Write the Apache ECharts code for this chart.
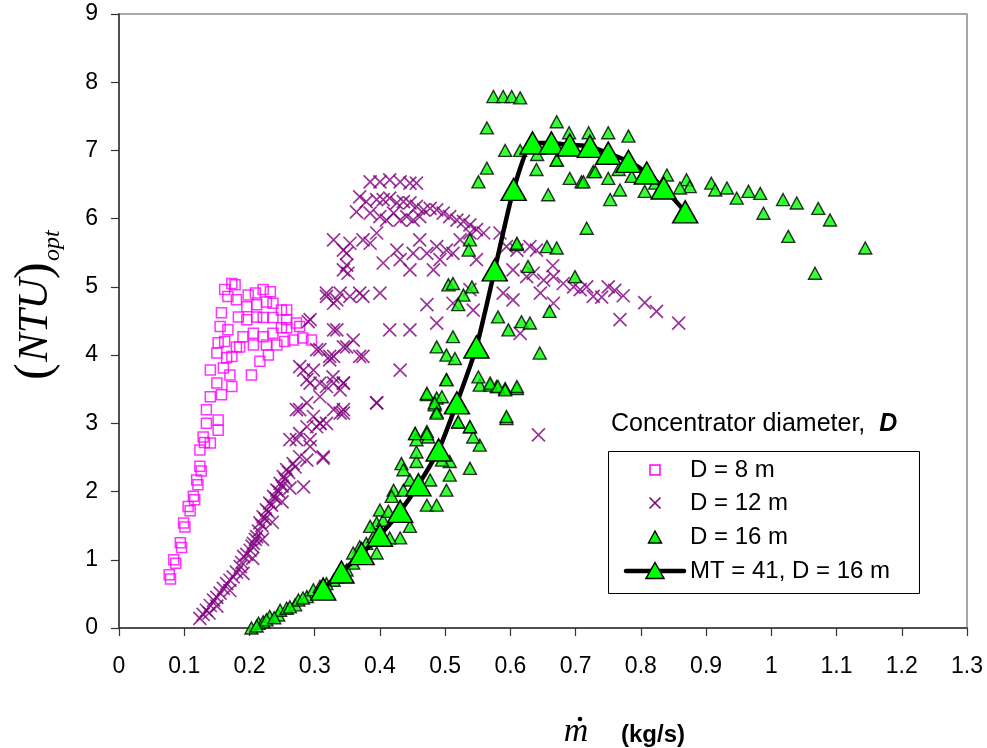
<!DOCTYPE html>
<html>
<head>
<meta charset="utf-8">
<script src="https://cdn.jsdelivr.net/npm/echarts@6/dist/echarts.min.js"></script>
<style>html,body{margin:0;padding:0;background:#fff}#c{width:987px;height:748px}</style>
</head>
<body>
<div id="c"></div>
<script>
var seriesNames = ['D = 8 m', 'D = 12 m', 'D = 16 m', 'MT = 41, D = 16 m'];
var xTicks = [0, 0.1, 0.2, 0.3, 0.4, 0.5, 0.6, 0.7, 0.8, 0.9, 1, 1.1, 1.2, 1.3];
var yTicks = [0, 1, 2, 3, 4, 5, 6, 7, 8, 9];

var d8Points = [
[0.077,0.78],[0.079,0.72],[0.084,1.0],[0.087,0.95],[0.094,1.25],[0.096,1.18],[0.099,1.54],[0.101,1.48],[0.106,1.78],[0.109,1.72],
[0.114,1.93],[0.116,1.88],[0.119,2.17],[0.121,2.1],[0.124,2.37],[0.126,2.3],[0.124,2.61],[0.129,2.8],[0.131,2.72],[0.14,2.71],
[0.134,3.0],[0.152,3.05],[0.152,2.9],[0.134,3.2],[0.14,3.39],[0.157,3.42],[0.15,3.59],[0.173,3.54],[0.14,3.78],[0.16,3.81],
[0.17,3.71],[0.15,4.03],[0.165,3.96],[0.152,4.18],[0.162,4.2],[0.155,4.42],[0.157,4.62],[0.167,4.37],[0.162,4.96],[0.173,5.05],
[0.178,5.03],[0.167,4.86],[0.18,4.81],[0.183,4.56],[0.185,4.12],[0.203,3.71],[0.196,4.71],[0.198,4.88],[0.209,4.91],[0.221,4.96],
[0.232,4.93],[0.226,4.78],[0.211,4.74],[0.236,4.76],[0.249,4.66],[0.257,4.66],[0.211,4.56],[0.221,4.55],[0.236,4.55],[0.257,4.52],
[0.272,4.47],[0.19,4.27],[0.206,4.32],[0.221,4.27],[0.236,4.32],[0.249,4.4],[0.257,4.4],[0.277,4.42],[0.282,4.25],[0.295,4.22],
[0.267,4.22],[0.254,4.2],[0.242,4.15],[0.226,4.15],[0.206,4.15],[0.18,4.12],[0.216,3.91],[0.229,4.0],[0.173,3.98],[0.196,4.52]
];

var d12Points = [
[0.124,0.14],[0.129,0.2],[0.134,0.26],[0.14,0.33],[0.145,0.41],[0.15,0.45],[0.155,0.51],[0.16,0.58],[0.165,0.65],[0.17,0.7],
[0.175,0.75],[0.18,0.82],[0.186,0.9],[0.188,0.96],[0.191,1.05],[0.196,1.08],[0.201,1.14],[0.204,1.2],[0.206,1.24],[0.209,1.3],
[0.211,1.34],[0.214,1.42],[0.216,1.54],[0.219,1.5],[0.221,1.63],[0.224,1.6],[0.226,1.73],[0.229,1.7],[0.231,1.83],[0.234,1.8],
[0.237,1.93],[0.24,1.9],[0.242,2.02],[0.245,2.0],[0.247,2.12],[0.25,2.08],[0.252,2.22],[0.255,2.18],[0.257,2.32],[0.26,2.28],
[0.267,2.41],[0.27,2.36],[0.277,2.51],[0.288,2.46],[0.313,2.51],[0.283,2.07],[0.262,2.05],[0.25,1.85],[0.235,1.55],[0.22,1.3],
[0.205,1.02],[0.19,0.8],[0.17,0.55],[0.15,0.32],[0.138,0.22],
[0.262,2.76],[0.277,2.85],[0.288,2.95],[0.303,2.95],[0.272,3.2],[0.298,3.1],[0.318,3.0],[0.339,3.15],[0.308,3.39],[0.318,3.54],
[0.288,3.64],[0.277,3.83],[0.298,3.78],[0.344,3.59],[0.369,3.98],[0.395,3.3],[0.323,3.98],[0.328,3.68],
[0.29,4.49],[0.303,4.08],[0.318,4.86],[0.329,4.76],[0.339,4.91],[0.344,5.25],[0.349,5.49],[0.334,4.37],[0.349,4.12],[0.323,3.93],
[0.283,3.78],[0.293,3.59],[0.339,3.49],[0.277,3.2],[0.308,3.0],[0.344,3.15],[0.272,2.76],[0.293,2.66],[0.313,2.49],
[0.385,6.54],[0.4,6.54],[0.415,6.57],[0.431,6.54],[0.446,6.52],[0.456,6.52],
[0.369,6.32],[0.379,6.25],[0.395,6.28],[0.405,6.28],[0.415,6.3],[0.426,6.23],[0.436,6.25],[0.446,6.23],[0.456,6.18],[0.467,6.13],
[0.477,6.15],[0.487,6.13],[0.497,6.08],[0.507,6.03],[0.518,5.98],[0.528,5.96],[0.538,5.91],[0.548,5.84],[0.559,5.79],[0.364,6.1],
[0.385,6.08],[0.4,6.03],[0.41,5.98],[0.421,6.08],[0.431,5.98],[0.441,6.03],[0.451,5.98],[0.461,6.03],
[0.329,5.69],[0.354,5.64],[0.344,5.54],[0.374,5.69],[0.385,5.64],[0.395,5.79],[0.349,5.32],[0.351,5.2],[0.405,5.35],[0.426,5.54],
[0.431,5.4],[0.446,5.25],[0.451,5.49],[0.461,5.69],[0.472,5.49],[0.487,5.59],[0.502,5.54],[0.512,5.49],[0.492,5.4],[0.482,5.25],
[0.523,5.69],[0.538,5.79],[0.548,5.4],[0.584,5.79],[0.594,5.59],[0.61,5.54],[0.63,5.59],[0.64,5.54],[0.604,5.25],[0.625,5.15],
[0.635,5.2],[0.651,5.1],[0.666,5.15],[0.681,5.05],[0.697,5.0],[0.707,4.96],[0.717,5.0],[0.727,4.86],[0.589,4.91],[0.604,4.81],
[0.646,4.91],[0.666,4.76],[0.615,4.32],[0.538,4.96],[0.543,4.66],[0.512,4.76],[0.472,4.74],[0.487,4.47],
[0.318,4.91],[0.334,4.81],[0.354,4.86],[0.369,4.91],[0.374,4.86],[0.4,4.91],[0.293,4.52],[0.329,4.37],[0.415,4.37],[0.446,4.37],
[0.308,4.08],[0.329,3.98],[0.344,4.12],[0.359,4.22],[0.374,3.98],[0.431,3.78],[0.395,3.3],[0.329,3.59],[0.344,3.59],[0.308,3.59],
[0.288,3.3],[0.329,3.2],[0.344,3.2],[0.308,3.0],[0.293,2.76],[0.643,2.83],
[0.74,4.85],[0.768,4.52],[0.773,4.87],[0.806,4.77],[0.824,4.64],[0.858,4.47],[0.665,5.31],[0.75,5.0],[0.76,4.95]
];

var d16Points = [
[0.203,0.0],[0.214,0.07],[0.221,0.09],[0.231,0.17],[0.244,0.19],[0.247,0.26],[0.257,0.29],[0.27,0.34],[0.275,0.41],[0.288,0.46],
[0.298,0.56],[0.308,0.61],[0.329,0.7],[0.334,0.75],[0.349,0.85],[0.359,0.95],[0.369,1.05],[0.379,1.24],[0.39,1.34],[0.395,1.54],
[0.395,1.1],[0.211,0.03],[0.226,0.12],[0.238,0.15],[0.262,0.31],[0.282,0.44],[0.318,0.65],[0.341,0.78],
[0.431,1.32],[0.415,1.32],[0.405,1.58],[0.446,1.49],[0.385,1.49],[0.4,1.73],[0.413,1.71],[0.421,2.02],[0.436,2.02],[0.418,1.93],
[0.446,2.17],[0.433,2.41],[0.436,2.32],[0.456,2.44],[0.456,2.58],[0.454,2.85],[0.456,2.76],[0.474,2.8],[0.472,2.88],[0.477,2.17],
[0.472,1.8],[0.487,1.8],[0.502,2.02],[0.507,2.24],[0.507,2.44],[0.495,2.46],[0.538,2.34],[0.553,2.68],[0.543,2.8],[0.538,2.95],
[0.52,3.02],[0.594,3.07],[0.472,3.42],[0.487,3.37],[0.484,3.27],[0.487,3.17],[0.495,3.39],[0.502,3.64],[0.553,3.56],[0.569,3.56],
[0.579,3.54],[0.592,3.51],[0.61,3.51],[0.369,1.19],[0.359,1.1],
[0.592,7.0],[0.564,6.74],[0.551,6.54],[0.64,6.72],[0.671,6.86],[0.691,6.59],[0.709,6.54],[0.727,6.69],[0.658,6.35],[0.717,5.86],
[0.538,5.69],[0.536,5.54],[0.61,5.62],[0.656,5.59],[0.671,5.57],[0.627,5.3],[0.699,5.15],[0.505,5.03],[0.512,5.05],[0.528,4.88],
[0.541,5.0],[0.52,4.74],[0.581,4.56],[0.597,4.37],[0.617,4.49],[0.63,4.47],[0.66,4.64],[0.645,4.03],[0.512,4.27],[0.487,4.12],
[0.502,4.0],[0.515,3.95],[0.502,3.64],[0.551,3.68],[0.569,3.59],[0.581,3.54],[0.592,3.49],[0.61,3.54],[0.472,3.44],[0.484,3.3],
[0.487,3.15],[0.52,3.02],[0.538,2.95],[0.594,3.1],[0.454,2.85],[0.472,2.85],
[0.574,7.79],[0.589,7.79],[0.602,7.79],[0.615,7.77],[0.564,7.33],[0.671,7.42],[0.615,7.0],[0.641,6.94],[0.671,6.86],[0.69,7.26],
[0.72,7.26],[0.75,7.26],[0.781,7.21],[0.766,6.72],[0.786,6.62],[0.712,6.54],[0.73,6.69],[0.75,6.59],[0.768,6.42],[0.753,6.28],
[0.806,6.4],[0.84,6.64],[0.822,6.52],[0.87,6.57],[0.875,6.47],[0.86,6.45],[0.908,6.52],[0.914,6.42],[0.932,6.45],[0.947,6.3],
[0.965,6.4],[0.983,6.37],[0.988,6.08],[1.018,6.28],[1.039,6.23],[1.072,6.15],[1.09,5.98],[1.026,5.74],[1.144,5.57],[1.067,5.2],
[0.61,5.64]
];

var mt41Points = [
[0.313,0.57],[0.341,0.82],[0.372,1.09],[0.4,1.36],[0.431,1.71],[0.459,2.1],[0.49,2.61],[0.518,3.3],[0.548,4.12],[0.576,5.25],
[0.605,6.43],[0.634,7.11],[0.663,7.11],[0.691,7.08],[0.722,7.06],[0.75,6.96],[0.781,6.84],[0.809,6.67],[0.835,6.45],[0.868,6.1]
];

var sans = 'Liberation Sans, Arial, sans-serif';
var serif = 'Liberation Serif, Times New Roman, serif';

// legend graphics (drawn as text + shapes)
var legX = 608.5, legY = 451.5, legW = 311, legH = 142;
var rowY = [470, 503, 537, 571];
var iconX = 655, textX = 690;
var legendGraphics = [
  {type: 'rect', shape: {x: legX, y: legY, width: legW, height: legH}, style: {fill: '#fff', stroke: '#000', lineWidth: 1}, z: 90},
  {type: 'rect', shape: {x: iconX - 5, y: rowY[0] - 5, width: 10, height: 10}, style: {fill: 'none', stroke: '#ff00ff', lineWidth: 1.5}, z: 91},
  {type: 'polyline', shape: {points: [[iconX - 5.5, rowY[1] - 5.5], [iconX + 5.5, rowY[1] + 5.5]]}, style: {stroke: '#800080', lineWidth: 1.6}, z: 91},
  {type: 'polyline', shape: {points: [[iconX + 5.5, rowY[1] - 5.5], [iconX - 5.5, rowY[1] + 5.5]]}, style: {stroke: '#800080', lineWidth: 1.6}, z: 91},
  {type: 'polygon', shape: {points: [[iconX, rowY[2] - 6], [iconX + 6.5, rowY[2] + 6], [iconX - 6.5, rowY[2] + 6]]}, style: {fill: '#00ff00', stroke: '#000', lineWidth: 1.4}, z: 91},
  {type: 'line', shape: {x1: 626, y1: rowY[3], x2: 684, y2: rowY[3]}, style: {stroke: '#000', lineWidth: 4.5, lineCap: 'round'}, z: 91},
  {type: 'polygon', shape: {points: [[iconX, rowY[3] - 8.5], [iconX + 9, rowY[3] + 7.5], [iconX - 9, rowY[3] + 7.5]]}, style: {fill: '#00ff00', stroke: '#000', lineWidth: 1.5}, z: 92}
];
seriesNames.forEach(function (n, i) {
  legendGraphics.push({type: 'text', x: textX, y: rowY[i], z: 92,
    style: {text: n, fontFamily: sans, fontSize: 24, fill: '#000', align: 'left', verticalAlign: 'middle'}});
});

var chart = echarts.init(document.getElementById('c'), null, {renderer: 'canvas'});
chart.setOption({
  backgroundColor: '#ffffff',
  animation: false,
  grid: {left: 119, right: 20, top: 14, bottom: 120, show: true, borderColor: '#8c8c8c', borderWidth: 1.5, backgroundColor: 'transparent'},
  xAxis: {
    type: 'value', min: xTicks[0], max: xTicks[xTicks.length - 1], interval: 0.1,
    axisLine: {show: true, onZero: false, lineStyle: {color: '#333', width: 1.5}},
    axisTick: {show: true, length: 8, inside: false, lineStyle: {color: '#333', width: 1.2}},
    splitLine: {show: false},
    axisLabel: {margin: 27, color: '#000', fontFamily: sans, fontSize: 23,
      formatter: function (v) { return String(+v.toFixed(1)); }}
  },
  yAxis: {
    type: 'value', min: yTicks[0], max: yTicks[yTicks.length - 1], interval: 1,
    axisLine: {show: true, onZero: false, lineStyle: {color: '#333', width: 1.5}},
    axisTick: {show: true, length: 8, inside: false, lineStyle: {color: '#333', width: 1.2}},
    splitLine: {show: false},
    axisLabel: {margin: 21, color: '#000', fontFamily: sans, fontSize: 23}
  },
  legend: {show: false, data: seriesNames},
  graphic: legendGraphics.concat([
    {type: 'text', x: 611, y: 424, z: 92, style: {
      rich: {a: {fontFamily: sans, fontSize: 25, fill: '#000'}, b: {fontFamily: sans, fontSize: 25, fontWeight: 'bold', fontStyle: 'italic', fill: '#000'}},
      text: '{a|Concentrator diameter,  }{b|D}', verticalAlign: 'middle', align: 'left'
    }},
    {type: 'group', x: 36, y: 380, rotation: Math.PI / 2, children: [
      {type: 'text', x: 0, y: 0, style: {text: '(', fontFamily: serif, fontSize: 50, fill: '#000', align: 'left', verticalAlign: 'middle'}},
      {type: 'text', x: 18, y: 0, style: {text: 'NTU', fontFamily: serif, fontStyle: 'italic', fontSize: 43, fill: '#000', align: 'left', verticalAlign: 'middle'}},
      {type: 'text', x: 101, y: 0, style: {text: ')', fontFamily: serif, fontSize: 50, fill: '#000', align: 'left', verticalAlign: 'middle'}},
      {type: 'text', x: 119, y: 17, style: {text: 'opt', fontFamily: serif, fontStyle: 'italic', fontSize: 24, fill: '#000', align: 'left', verticalAlign: 'middle'}}
    ]},
    {type: 'text', x: 576, y: 732, style: {text: 'm', fontFamily: serif, fontStyle: 'italic', fontSize: 34, fill: '#000', align: 'center', verticalAlign: 'middle'}},
    {type: 'circle', shape: {cx: 580, cy: 719, r: 2.3}, style: {fill: '#000'}},
    {type: 'text', x: 621, y: 735, style: {text: '(kg/s)', fontFamily: sans, fontWeight: 'bold', fontSize: 24, fill: '#000', align: 'left', verticalAlign: 'middle'}}
  ]),
  series: [
    {name: seriesNames[0], type: 'scatter', data: d8Points, symbol: 'rect', symbolSize: 10,
      itemStyle: {color: 'rgba(255,255,255,0)', borderColor: '#ff00ff', borderWidth: 1.5}, z: 2},
    {name: seriesNames[1], type: 'scatter', data: d12Points, symbol: 'path://M0,0L10,10M10,0L0,10', symbolSize: 13,
      itemStyle: {color: 'rgba(0,0,0,0)', borderColor: '#800080', borderWidth: 1.7}, z: 3},
    {name: seriesNames[2], type: 'scatter', data: d16Points, symbol: 'triangle', symbolSize: [13, 12],
      itemStyle: {color: '#00ff00', borderColor: '#000', borderWidth: 1.4}, z: 4},
    {name: seriesNames[3], type: 'line', data: mt41Points, symbol: 'triangle', symbolSize: [25, 22], smooth: 0.2,
      lineStyle: {color: '#000', width: 4.5}, itemStyle: {color: '#00ff00', borderColor: '#000', borderWidth: 1.5}, z: 5}
  ]
});
</script>
</body>
</html>
